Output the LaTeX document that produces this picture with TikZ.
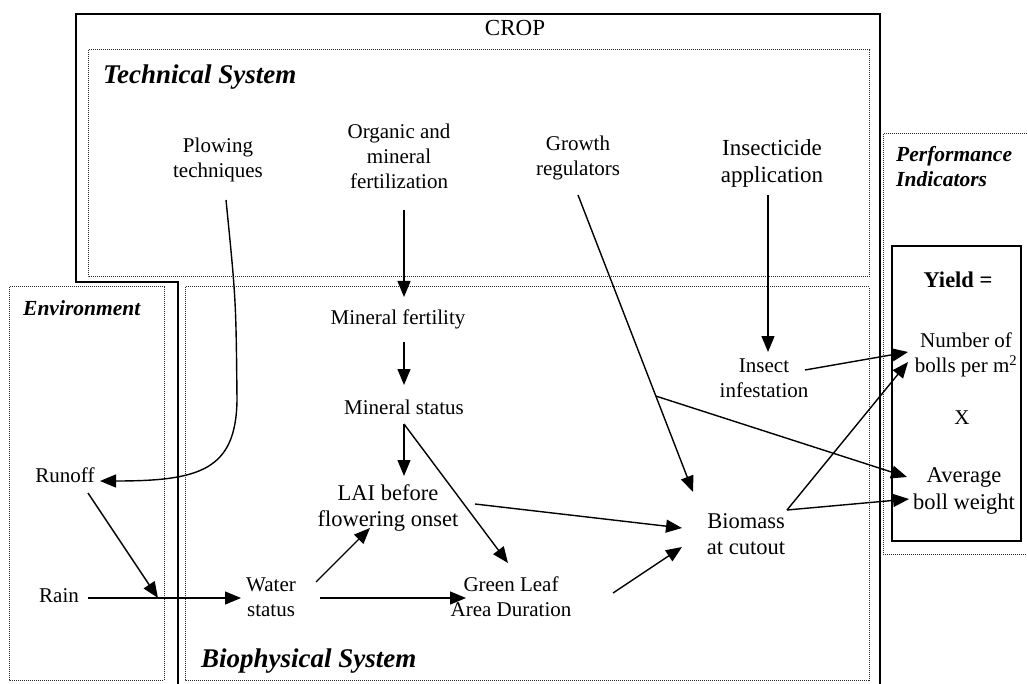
\documentclass[tikz,border=0pt]{standalone}
\usepackage{fontspec}
\setmainfont{Liberation Serif}
\usetikzlibrary{arrows.meta,calc}

\tikzset{
  zone/.style={draw=black!85,densely dotted,line width=1pt},
  cropline/.style={draw=black,line width=1.5pt},
  txt/.style={align=center,inner sep=2pt,font=\fontsize{21}{25}\selectfont},
  txtbig/.style={txt,font=\fontsize{22.5}{26.5}\selectfont},
  systitle/.style={anchor=west,inner sep=0pt,align=left,font=\fontsize{27}{32}\selectfont\bfseries\itshape},
  subtitle/.style={anchor=west,inner sep=0pt,align=left,font=\fontsize{21.5}{25}\selectfont\bfseries\itshape},
  arr/.style={-{Triangle[length=16pt,width=13pt]},line width=1.4pt}
}

\begin{document}
\begin{tikzpicture}[x=1pt,y=-1pt]
	\useasboundingbox (0,0) rectangle (1027,684);
	% frames
	\draw[cropline] (178,690) -- (178,282) -- (76,282) -- (76,14) -- (880,14) -- (880,690);
	\draw[zone] (88,50) rectangle (869,277);
	\draw[zone] (185,287) rectangle (869,680);
	\draw[zone] (9,287) rectangle (164,680);
	\draw[zone] (883,134) rectangle (1035,554);
	\draw[line width=1.4pt] (892,246) rectangle (1021,541);
	% titles
	\node (crop) [txt,font=\fontsize{23}{27}\selectfont] at (515,28) {CROP};
	\node (techsys) [systitle] at (103,77) {Technical System};
	\node (biosys) [systitle] at (201,661) {Biophysical System};
	\node (env) [subtitle] at (23,308) {Environment};
	\node (perf) [subtitle] at (896,167) {Performance\\Indicators};
	\node (yield) [txt,font=\fontsize{22.5}{27}\selectfont\bfseries] at (958,280) {Yield =};
	% technical system
	\node (plow) [txt] at (218,160) {Plowing\\techniques};
	\node (orgfert) [txt] at (399,156) {Organic and\\mineral\\fertilization};
	\node (growth) [txt] at (578,158) {Growth\\regulators};
	\node (insecticide) [txt,font=\fontsize{23}{27}\selectfont] at (772,163) {Insecticide\\application};
	% biophysical system
	\node (minfert) [txt] at (398,319) {Mineral fertility};
	\node (minstat) [txt] at (404,407) {Mineral status};
	\node (lai) [txtbig] at (388,508) {LAI before\\flowering onset};
	\node (water) [txt] at (271,597) {Water\\status};
	\node (gla) [txt] at (511,597) {Green Leaf\\Area Duration};
	\node (biomass) [txtbig] at (746,534) {Biomass\\at cutout};
	\node (insect) [txt] at (764,378) {Insect\\infestation};
	% environment
	\node (runoff) [txt] at (65,475) {Runoff};
	\node (rain) [txt] at (59,596) {Rain};
	% performance
	\node (nbolls) [txt] at (966,355) {Number of\\bolls per m\textsuperscript{2}};
	\node (xsign) [txt] at (962,418) {X};
	\node (avg) [txtbig] at (964,491) {Average\\boll weight};
	% connectors
	\draw[arr] ($(plow)+(8,40)$) .. controls (236,300) .. (237,400) .. controls (236,470) and (200,481) .. ($(runoff)+(35,6)$);
	\draw[arr] ($(orgfert)+(5,54)$) -- ($(minfert)+(6,-22)$);
	\draw[arr] ($(minfert)+(6,23)$) -- ($(minstat)+(0,-22)$);
	\draw[arr] ($(minstat)+(0,17)$) -- ($(lai)+(16,-32)$);
	\draw[arr] ($(minstat)+(0,17)$) -- ($(gla)+(-3,-34)$);
	\draw[arr] ($(water)+(45,-15)$) -- ($(lai)+(-18,20)$);
	\draw[arr] ($(water)+(49,1)$) -- ($(gla)+(-45,1)$);
	\draw[arr] ($(rain)+(29,2)$) -- ($(water)+(-30,1)$);
	\draw[arr] ($(runoff)+(23,18)$) -- ($(rain)+(99,2)$);
	\draw[arr] ($(growth)+(0,37)$) -- coordinate[pos=0.677] (branch) ($(biomass)+(-53,-42)$);
	\draw[arr] (branch) -- ($(avg)+(-57,-14)$);
	\draw[arr] ($(insecticide)+(-4,32)$) -- ($(insect)+(4,-26)$);
	\draw[arr] ($(insect)+(41,-8)$) -- ($(nbolls)+(-58,-3)$);
	\draw[arr] ($(lai)+(87,-4)$) -- ($(biomass)+(-64,-6)$);
	\draw[arr] ($(gla)+(102,-4)$) -- ($(biomass)+(-64,13)$);
	\draw[arr] ($(biomass)+(41,-24)$) -- ($(nbolls)+(-58,7)$);
	\draw[arr] ($(biomass)+(41,-24)$) -- ($(avg)+(-55,8)$);
\end{tikzpicture}
\end{document}
